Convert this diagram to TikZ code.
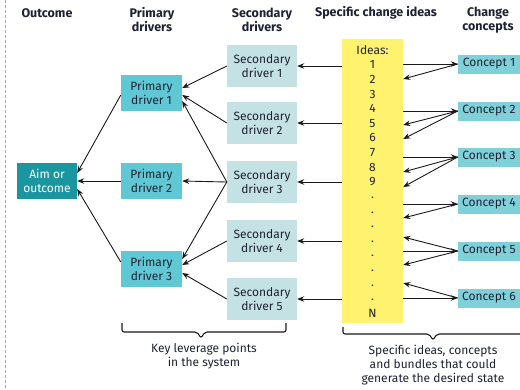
\documentclass[tikz,border=0pt]{standalone}
\usepackage{fontspec}
\setmainfont{Fira Sans}
\usetikzlibrary{arrows.meta,calc}
\definecolor{aimc}{HTML}{1A96A0}
\definecolor{pric}{HTML}{5FC8D4}
\definecolor{secc}{HTML}{C4E2E4}
\definecolor{conc}{HTML}{80D0DA}
\definecolor{yelc}{HTML}{FFF26E}
\definecolor{textc}{HTML}{1E2233}
\definecolor{linec}{HTML}{1A1A1A}
\begin{document}
\begin{tikzpicture}[x=1pt,y=-1pt,
  txt/.style={font=\fontsize{12}{14}\selectfont, text=textc},
  hdr/.style={font=\bfseries\fontsize{12.5}{14}\selectfont, text=textc, align=center, inner sep=0pt},
  boxbase/.style={txt, inner sep=0pt, align=center},
  aimbox/.style={boxbase, fill=aimc, text=white, minimum width=60pt, minimum height=36pt},
  pribox/.style={boxbase, fill=pric, minimum width=61pt, minimum height=36pt},
  secbox/.style={boxbase, fill=secc, minimum width=70pt, minimum height=42pt},
  conbox/.style={boxbase, fill=conc, minimum width=62pt, minimum height=19pt},
  idbox/.style={fill=yelc, inner sep=0pt, minimum width=61pt, minimum height=284pt},
  idtxt/.style={txt, inner sep=0pt, anchor=base},
  arr/.style={draw=linec, line width=0.9pt, -{Stealth[length=7pt,width=5.5pt]}},
  bracket/.style={draw=linec, line width=1.1pt, rounded corners=2pt},
  note/.style={txt, align=center, inner sep=0pt}
]
\useasboundingbox (0,0) rectangle (520,389);
\fill[white] (0,0) rectangle (520,389);
\draw[gray!70, line width=0.8pt, dash pattern=on 3pt off 2pt] (5,0) -- (5,389);

% headers
\node[hdr] (h1) at (47,13) {Outcome};
\node[hdr] (h2) at (152,20) {Primary\\drivers};
\node[hdr] (h3) at (262,20) {Secondary\\drivers};
\node[hdr] (h4) at (376,13) {Specific change ideas};
\node[hdr] (h5) at (488,20) {Change\\concepts};

% boxes
\node[aimbox] (aim) at (47,181) {Aim or\\outcome};
\node[pribox] (pd1) at (151.5,93) {Primary\\driver 1};
\node[pribox] (pd2) at (151.5,181) {Primary\\driver 2};
\node[pribox] (pd3) at (151.5,269) {Primary\\driver 3};
\node[secbox] (sd1) at (262,66) {Secondary\\driver 1};
\node[secbox] (sd2) at (262,123) {Secondary\\driver 2};
\node[secbox] (sd3) at (262,182) {Secondary\\driver 3};
\node[secbox] (sd4) at (262,241) {Secondary\\driver 4};
\node[secbox] (sd5) at (262,299) {Secondary\\driver 5};
\node[idbox] (ideas) at (372.5,181) {};
\node[conbox] (c1) at (489,64) {Concept 1};
\node[conbox] (c2) at (489,111) {Concept 2};
\node[conbox] (c3) at (489,157) {Concept 3};
\node[conbox] (c4) at (489,204) {Concept 4};
\node[conbox] (c5) at (489,251) {Concept 5};
\node[conbox] (c6) at (489,298) {Concept 6};

% ideas list
\node[idtxt] (i0) at (372.5,54) {Ideas:};
\foreach \k in {1,...,9} {
  \node[idtxt] (i\k) at (372.5,{54.3+14.6*\k}) {\k};
}
\foreach \k in {10,...,17} {
  \node[idtxt] (i\k) at (372.5,{52.5+14.6*\k}) {.};
}
\node[idtxt] (i18) at (372.5,{54.3+14.6*18}) {N};

% ideas -> secondary
\foreach \s in {sd1,sd2,sd3,sd4,sd5} {
  \draw[arr] (ideas.west |- \s) -- (\s.east);
}

% ideas <-> concepts
\draw[arr] (ideas.east |- c1) -- (c1.west);
\draw[arr] (c1.west) -- ($(ideas.east |- c1)+(0,15)$);
\draw[arr] (ideas.east |- c2) -- (c2.west);
\draw[arr] (c2.west) -- ($(ideas.east |- c2)+(0,14)$);
\draw[arr] (c2.west) -- ($(ideas.east |- c2)+(0,28)$);
\draw[arr] (ideas.east |- c3) -- (c3.west);
\draw[arr] (c3.west) -- ($(ideas.east |- c3)+(0,15)$);
\draw[arr] (c3.west) -- ($(ideas.east |- c3)+(0,30)$);
\draw[arr] (ideas.east |- c4) -- (c4.west);
\draw[arr] (c4.west) -- ($(ideas.east |- c4)+(0,14)$);
\draw[arr] (c5.west) -- ($(ideas.east |- c5)+(0,-14)$);
\draw[arr] (ideas.east |- c5) -- (c5.west);
\draw[arr] (c5.west) -- ($(ideas.east |- c5)+(0,14)$);
\draw[arr] (c6.west) -- ($(ideas.east |- c6)+(0,-15)$);
\draw[arr] (ideas.east |- c6) -- (c6.west);

% secondary -> primary
\draw[arr] (sd1.west) -- ($(pd1.east)+(0,-5)$);
\draw[arr] (sd2.west) -- ($(pd1.east)+(0,2)$);
\draw[arr] (sd3.west) -- ($(pd1.east)+(0,8)$);
\draw[arr] (sd3.west) -- (pd2.east);
\draw[arr] (sd3.west) -- ($(pd3.east)+(0,-10)$);
\draw[arr] (sd4.west) -- ($(pd3.east)+(0,-4)$);
\draw[arr] (sd5.west) -- ($(pd3.east)+(0,4)$);

% primary -> aim
\draw[arr] ($(pd1.west)+(0,2)$) -- ($(aim.east)+(0,-8)$);
\draw[arr] (pd2.west) -- (aim.east);
\draw[arr] ($(pd3.west)+(0,-7)$) -- ($(aim.east)+(0,8)$);

% brackets
\coordinate (b1l) at (122,323);
\coordinate (b1r) at (286,323);
\coordinate (b1t) at (201,338);
\draw[bracket] (b1l) -- (122,332) -- (197,332) -- (b1t) -- (205,332) -- (286,332) -- (b1r);
\node[note] (n1) at (204,356) {Key leverage points\\in the system};

\coordinate (b2l) at (343,327);
\coordinate (b2t) at (433,340);
\coordinate (b2r) at (520,334);
\draw[bracket] (b2l) -- (343,334) -- (429,334) -- (b2t) -- (437,334) -- (b2r);
\node[note] (n2) at (433,365.5) {Specific ideas, concepts\\and bundles that could\\generate the desired state};
\end{tikzpicture}
\end{document}
